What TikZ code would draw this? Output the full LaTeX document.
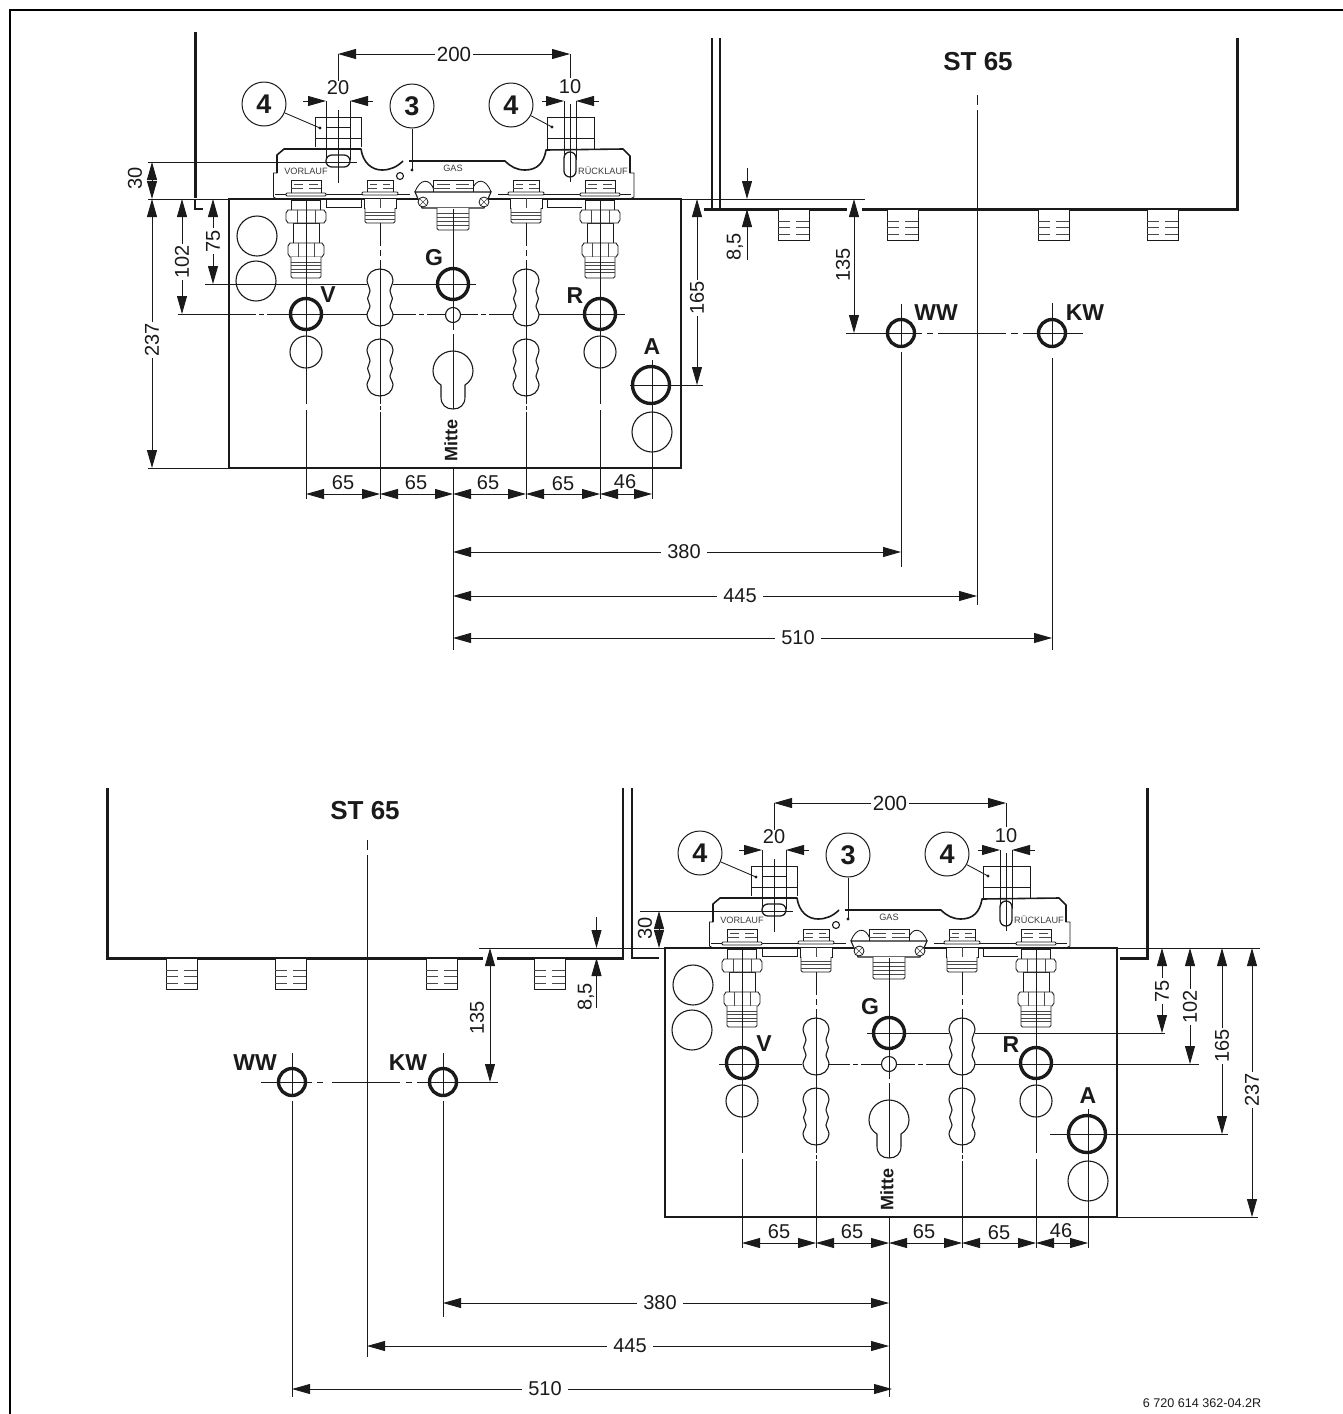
\documentclass[tikz,border=0pt]{standalone}
\usepackage{fontspec}
\setmainfont{Liberation Sans}
\usetikzlibrary{arrows.meta}
\definecolor{ink}{HTML}{1A1A1A}
\tikzset{
  thin line/.style={line width=.85pt,draw=ink},
  part/.style={line width=.85pt,draw=ink,fill=white},
  thread/.style={line width=.65pt,draw=ink!80},
  heavy/.style={line width=3pt,draw=ink},
  port/.style={line width=3.4pt,draw=ink},
  hole/.style={line width=1.1pt,draw=ink},
  dimline/.style={line width=.85pt,draw=ink,{Triangle[length=18pt,width=10pt]}-{Triangle[length=18pt,width=10pt]}},
  uptip/.style={line width=.85pt,draw=ink,-{Triangle[length=18pt,width=10pt]}},
  dimtext/.style={font=\fontsize{20}{20}\selectfont,text=ink,fill=white,inner sep=1.5pt},
  dimfree/.style={font=\fontsize{20}{20}\selectfont,text=ink,inner sep=0pt},
  small/.style={font=\fontsize{20}{20}\selectfont,text=ink,inner sep=0pt},
  letter/.style={font=\fontsize{23}{23}\selectfont\bfseries,text=ink,inner sep=0pt},
  balloon/.style={circle,draw=ink,line width=1pt,minimum size=44pt,inner sep=0pt,font=\fontsize{27}{27}\selectfont\bfseries,text=ink},
  plate/.style={font=\fontsize{9.2}{9.2}\selectfont,text=ink!85,inner sep=0pt},
}
\newcommand{\bigfit}[1]{%
  \draw[part] (#1-15,180)--(#1+15,180)--(#1+15,193)--(#1-15,193)--cycle;
  \draw[thread] (#1-12,184)--(#1-3,184) (#1+3,184)--(#1+12,184) (#1-15,188)--(#1-3,188) (#1+3,188)--(#1+15,188);
  \draw[part,rounded corners=1pt] (#1-20,193) rectangle (#1+20,196);
  \draw[part] (#1-14.5,200) rectangle (#1+14.5,210);
  \draw[part] (#1-13,223) rectangle (#1+13,243);
  \draw[part] (#1-18,210)--(#1+18,210)--(#1+20,213)--(#1+20,220)--(#1+18,223)--(#1-18,223)--(#1-20,220)--(#1-20,213)--cycle;
  \draw[thread] (#1-9,210)--(#1-9,223) (#1+9,210)--(#1+9,223);
  \draw[part] (#1-16,243)--(#1+16,243)--(#1+18,246)--(#1+18,254)--(#1+16,257)--(#1-16,257)--(#1-18,254)--(#1-18,246)--cycle;
  \draw[thread] (#1-8,243)--(#1-8,257) (#1+8,243)--(#1+8,257);
  \draw[part,rounded corners=1.5pt] (#1-15,257)--(#1-15,278)--(#1+15,278)--(#1+15,257);
  \foreach \yy in {262,265.5,269,272.5}{\draw[thread] (#1-15,\yy)--(#1+15,\yy);}
}
\newcommand{\midfit}[1]{%
  \draw[part] (#1-13,180)--(#1+13,180)--(#1+13,192)--(#1-13,192)--cycle;
  \draw[thread] (#1-10,184)--(#1-3,184) (#1+3,184)--(#1+10,184) (#1-13,188)--(#1-3,188) (#1+3,188)--(#1+13,188);
  \draw[part,rounded corners=1pt] (#1-18,192) rectangle (#1+18,195);
  \draw[part] (#1-16,198) rectangle (#1+16,208);
  \draw[thread] (#1,198)--(#1,208);
  \draw[part,rounded corners=1.5pt] (#1-15,208)--(#1-15,223)--(#1+15,223)--(#1+15,208);
  \foreach \yy in {212,215.5,219}{\draw[thread] (#1-15,\yy)--(#1+15,\yy);}
}
\newcommand{\kidney}[2]{% x, top y
  \draw[hole,fill=white] plot[smooth cycle,tension=.62] coordinates {
   (#1,#2) (#1+9,#2+3) (#1+13,#2+11) (#1+10,#2+22)
   (#1+12.5,#2+29.5) (#1+10,#2+37) (#1+13,#2+46) (#1+9,#2+54) (#1,#2+57)
   (#1-9,#2+54) (#1-13,#2+46) (#1-10,#2+37) (#1-12.5,#2+29.5) (#1-10,#2+22)
   (#1-13,#2+11) (#1-9,#2+3)};
}
\newcommand{\stud}[2]{% x, wall y
  \draw[part] (#1,#2)--(#1,#2+30)--(#1+31,#2+30)--(#1+31,#2);
  \foreach \dd in {11,17,24}{\draw[thread] (#1,#2+\dd)--(#1+12,#2+\dd) (#1+18,#2+\dd)--(#1+31,#2+\dd);}
}
\newcommand{\assembly}{%
  % plate
  \draw[hole] (229,199) rectangle (681,468);
  % open holes
  \draw[hole] (257,236) circle (20) (256,281) circle (20);
  \draw[hole] (306,352) circle (16) (600,352) circle (16);
  \draw[hole] (652,432) circle (20);
  \kidney{380}{269}\kidney{380}{339}\kidney{526}{269}\kidney{526}{339}
  \draw[hole,fill=white] (441,385) .. controls (436,382) and (433,377) .. (433,371)
     arc[start angle=180,end angle=360,radius=20]
     .. controls (473,377) and (470,382) .. (465,385) -- (465,397)
     .. controls (465,405) and (460,409) .. (453,409) .. controls (446,409) and (441,405) .. (441,397) -- cycle;
  % brackets 4
  \draw[thin line] (315,147)--(315,117)--(361,117)--(361,147) (315,138)--(361,138);
  \draw[thin line] (547,150)--(547,117)--(594,117)--(594,150) (547,138)--(594,138);
  % base plate outline
  \draw[line width=1.6pt,draw=ink,line join=round] (277,173)--(277,155)--(284,149)--(361,149)
     .. controls (363,163) and (372,170) .. (382,170) .. controls (390,170) and (397,167) .. (403,161)
     (409,161)--(505,161) .. controls (511,167) and (517,170) .. (525,170) .. controls (537,170) and (544,163) .. (546,150)
     --(623,149)--(630,156)--(630,173);
  \draw[thin line] (277,173)--(273.5,173)--(273.5,197)--(277,199) (630,173)--(634,173)--(634,197)--(630,199);
  \draw[line width=1pt,draw=ink] (275,194)--(410,194) (498,194)--(631,194);
  \draw[thin line] (326,199)--(326,207)--(361,207)--(361,199) (547,199)--(547,207)--(582,207);
  \draw[hole] (400,176) circle (3.5);
  % fittings
  \bigfit{306}\midfit{380}\midfit{526}\bigfit{600}
  % gas
  \draw[thin line] (415,192) .. controls (420,178) and (430,178) .. (434,190);
  \draw[thin line] (491,192) .. controls (486,178) and (476,178) .. (472,190);
  \draw[part] (433,180)--(473,180)--(473,192)--(433,192)--cycle;
  \draw[thread] (437,184)--(450,184) (456,184)--(469,184) (433,188)--(450,188) (456,188)--(473,188);
  \draw[part,line width=1.1pt] (415,192)--(491,192)--(484,208)--(422,208)--cycle;
  \draw[part] (423,202) circle (5) (484,202) circle (5);
  \draw[thread] (420,199)--(426,205) (420,205)--(426,199) (481,199)--(487,205) (481,205)--(487,199);
  \draw[part,rounded corners=1.5pt] (437,208)--(437,230)--(469,230)--(469,208);
  \foreach \yy in {213,217,221,225}{\draw[thread] (437,\yy)--(469,\yy);}
  % slots
  \draw[thin line] (326,101)--(326,160) (350,101)--(350,160);
  \draw[thin line] (564,101)--(564,160) (576,101)--(576,160);
  \draw[thin line] (338,110)--(338,183) (570,104)--(570,182);
  \draw[part,line width=1.3pt,rounded corners=5.9pt] (326,155) rectangle (350,167);
  \draw[part,line width=1.3pt,rounded corners=5.9pt] (564,152) rectangle (576,177);
  \draw[thin line] (338,150)--(338,183) (570,150)--(570,182);
  \draw[thin line] (326,127)--(350,127) (564,117)--(576,117) (564,138)--(576,138) (326,117)--(350,117) (326,138)--(350,138);
  % plate labels
  \node[plate] (lblvor) at (306,171) {VORLAUF};
  \node[plate] (lblgas) at (453,168) {GAS};
  \node[plate] (lblrue) at (603,171) {RÜCKLAUF};
  % leaders and balloons
  \node[balloon] (bA) at (264,104) {4};
  \node[balloon] (bB) at (412,106) {3};
  \node[balloon] (bC) at (511,105) {4};
  \coordinate (dA) at (320,128);
  \coordinate (dB) at (412,170);
  \coordinate (dC) at (552,127);
  \draw[thin line] (bA)--(dA); \draw[thin line] (bB)--(dB); \draw[thin line] (bC)--(dC);
  \fill[ink] (dA) circle (1.7) (dB) circle (1.7) (dC) circle (1.7);
  % centre lines
  \foreach \xx in {306,600}{\draw[thin line] (\xx,200)--(\xx,404) (\xx,410)--(\xx,499);}
  \foreach \xx in {380,526}{\draw[thin line] (\xx,223)--(\xx,246) (\xx,250)--(\xx,256) (\xx,260)--(\xx,404) (\xx,406)--(\xx,410) (\xx,412)--(\xx,499);}
  \draw[thin line] (453,209)--(453,295) (453,300)--(453,307) (453,323)--(453,330) (453,334)--(453,409);
  \draw[thin line] (652,360)--(652,499);
  % ports
  \draw[port] (306,314) circle (15.5) (600,314) circle (15.5) (453,284) circle (15.5);
  \draw[port] (651,385) circle (18.5);
  \draw[hole,fill=white] (453,315) circle (7.5);
  \draw[thin line] (306,300)--(306,328) (600,300)--(600,328) (453,270)--(453,298) (453,307)--(453,323);
  \node[letter] (lV) at (328,295) {V};
  \node[letter] (lG) at (434,258) {G};
  \node[letter] (lR) at (575,296) {R};
  \node[letter] (lA) at (652,347) {A};
  \node[rotate=90,font=\fontsize{18}{18}\selectfont\bfseries,text=ink,fill=white,inner sep=.5pt] (mitte) at (451,440) {Mitte};
  % dimensions shared
  \draw[thin line] (338,54)--(338,81) (570,54)--(570,78);
  \draw[dimline] (338,54)--(570,54);
  \node[dimtext,font=\fontsize{20.5}{20.5}\selectfont] (d200) at (454,54) {200};
  \draw[uptip] (303,101)--(326,101); \draw[uptip] (373,101)--(350,101);
  \draw[uptip] (542,101)--(564,101); \draw[uptip] (599,101)--(576,101);
  \node[small] (d20) at (338,88) {20};
  \node[small] (d10) at (570,87) {10};
  \draw[dimline] (306,494)--(380,494);\draw[dimline] (380,494)--(453,494);
  \draw[dimline] (453,494)--(526,494);\draw[dimline] (526,494)--(600,494);\draw[dimline] (600,494)--(652,494);
  \node[small] (a1) at (343,483) {65};\node[small] (a2) at (416,483) {65};
  \node[small] (a3) at (488,483) {65};\node[small] (a4) at (563,484) {65};\node[small] (a5) at (625,482) {46};
}
\begin{document}
\begin{tikzpicture}[x=1pt,y=-1pt]
\useasboundingbox (0,0) rectangle (1343,1414);
\draw[line width=2.2pt,draw=black] (10,1414)--(10,10)--(1343,10);

% ---------- upper drawing ----------
\assembly
% left wall
\draw[heavy] (195,32)--(195,198);
\draw[line width=2pt,draw=ink] (195,200)--(195,209)--(203,209);
% side dimensions
\draw[thin line] (148,162)--(357,162) (148,199)--(229,199) (148,468)--(229,468);
\draw[dimline] (152,162)--(152,199);
\draw[dimline] (152,199)--(152,468);
\draw[dimline] (182,199)--(182,314);
\draw[dimline] (213,199)--(213,284);
\node[dimfree,rotate=90] (t30) at (135,178) {30};
\node[dimtext,rotate=90] (t237) at (152,340) {237};
\node[dimtext,rotate=90] (t102) at (182,262) {102};
\node[dimtext,rotate=90] (t75) at (213,241) {75};
\draw[thin line] (178,314)--(256,314) (259,314)--(264,314) (267,314)--(367,314) (393,314)--(416,314) (419,314)--(424,314) (427,314)--(445,314) (461,314)--(478,314) (481,314)--(486,314) (489,314)--(513,314) (539,314)--(625,314);
\draw[thin line] (205,284)--(367,284) (393,284)--(476,284);
% right of plate
\draw[thin line] (681,199)--(865,199) (630,385)--(703,385);
\draw[dimline] (697,199)--(697,385);
\node[dimtext,rotate=90] (t165) at (697,298) {165};
% ST 65 unit
\draw[line width=2pt,draw=ink] (712,38)--(712,209);
\draw[line width=2.4pt,draw=ink] (720,38)--(720,209);
\draw[line width=3pt,draw=ink] (704,209)--(847,209) (862,209)--(1237,209)--(1237,38);
\stud{778}{210}\stud{887}{210}\stud{1038}{210}\stud{1147}{210}
\node[font=\fontsize{26}{26}\selectfont\bfseries,text=ink,inner sep=0pt] (st1) at (978,62) {ST 65};
\draw[thin line] (977,95)--(977,105) (977,110)--(977,605);
\draw[uptip] (747,168)--(747,199);
\draw[uptip] (747,260)--(747,209);
\node[dimfree,rotate=90] (t85) at (735,247) {8,5};
\draw[dimline] (854,199)--(854,333);
\node[dimfree,rotate=90] (t135) at (843,265) {135};
\draw[thin line] (846,333)--(922,333) (927,333)--(933,333) (938,333)--(1006,333) (1011,333)--(1018,333) (1023,333)--(1083,333);
\draw[thin line] (901,304)--(901,346) (901,352)--(901,567);
\draw[thin line] (1052,303)--(1052,346) (1052,358)--(1052,650);
\draw[port] (901,333) circle (13.5) (1052,333) circle (13.5);
\node[letter] (lWW) at (936,313) {WW};
\node[letter] (lKW) at (1085,313) {KW};
% long dimensions
\draw[thin line] (453,468)--(453,650);
\draw[dimline] (453,552)--(901,552);
\draw[dimline] (453,596)--(977,596);
\draw[dimline] (453,638)--(1052,638);
\node[dimtext,inner xsep=6pt] (t380) at (684,552) {380};
\node[dimtext,inner xsep=6pt] (t445) at (740,596) {445};
\node[dimtext,inner xsep=6pt] (t510) at (798,638) {510};

% ---------- lower drawing ----------
\begin{scope}[shift={(436,749)}]
\assembly
\end{scope}
\draw[heavy] (1147,788)--(1147,958)--(1120,958);
% left dimensions of plate
\draw[thin line] (640,911)--(793,911) (479,948)--(665,948);
\draw[dimline] (659,911)--(659,948);
\node[dimfree,rotate=90] (u30) at (645,928) {30};
% right dimensions
\draw[thin line] (1116,948)--(1260,948) (1116,1217)--(1258,1217);
\draw[thin line] (867,1033)--(949,1033) (975,1033)--(1165,1033)
  (719,1064)--(802,1064) (828,1064)--(850,1064) (853,1064)--(858,1064) (861,1064)--(881,1064)
  (897,1064)--(915,1064) (918,1064)--(923,1064) (926,1064)--(949,1064) (975,1064)--(1199,1064)
  (1050,1134)--(1228,1134);
\draw[dimline] (1162,948)--(1162,1033);
\draw[dimline] (1190,948)--(1190,1064);
\draw[dimline] (1222,948)--(1222,1134);
\draw[dimline] (1252,948)--(1252,1217);
\node[dimtext,rotate=90] (u75) at (1162,991) {75};
\node[dimtext,rotate=90] (u102) at (1190,1007) {102};
\node[dimtext,rotate=90] (u165) at (1222,1046) {165};
\node[dimtext,rotate=90] (u237) at (1252,1090) {237};
% ST 65 unit
\draw[line width=3pt,draw=ink] (107.5,788)--(107.5,958)--(483,958) (497,958)--(624,958);
\draw[line width=2pt,draw=ink] (623,788)--(623,958);
\draw[line width=2.4pt,draw=ink] (632,788)--(632,958)--(659,958);
\stud{166}{959}\stud{275}{959}\stud{426}{959}\stud{534}{959}
\node[font=\fontsize{26}{26}\selectfont\bfseries,text=ink,inner sep=0pt] (st2) at (365,811) {ST 65};
\draw[thin line] (367,840)--(367,850) (367,855)--(367,1357);
\draw[uptip] (596.5,917)--(596.5,948);
\draw[uptip] (596.5,1008)--(596.5,958);
\node[dimfree,rotate=90] (u85) at (586,997) {8,5};
\draw[dimline] (490,948)--(490,1082);
\node[dimfree,rotate=90] (u135) at (477,1018) {135};
\draw[thin line] (261,1082)--(312,1082) (317,1082)--(323,1082) (332,1082)--(400,1082) (406,1082)--(412,1082) (417,1082)--(498,1082);
\draw[thin line] (292,1053)--(292,1095) (292,1101)--(292,1397);
\draw[thin line] (443,1053)--(443,1095) (443,1101)--(443,1317);
\draw[port] (292,1082) circle (13.5) (443,1082) circle (13.5);
\node[letter] (uWW) at (255,1063) {WW};
\node[letter] (uKW) at (408,1063) {KW};
% long dimensions
\draw[thin line] (889,1217)--(889,1397);
\draw[dimline] (443,1303)--(889,1303);
\draw[dimline] (367,1346)--(889,1346);
\draw[dimline] (292,1389)--(892,1389);
\node[dimtext,inner xsep=6pt] (u380) at (660,1303) {380};
\node[dimtext,inner xsep=6pt] (u445) at (630,1346) {445};
\node[dimtext,inner xsep=6pt] (u510) at (545,1389) {510};
\node[font=\fontsize{12.6}{12.6}\selectfont,text=ink,inner sep=0pt] (code) at (1202,1403) {6 720 614 362-04.2R};
\end{tikzpicture}
\end{document}
